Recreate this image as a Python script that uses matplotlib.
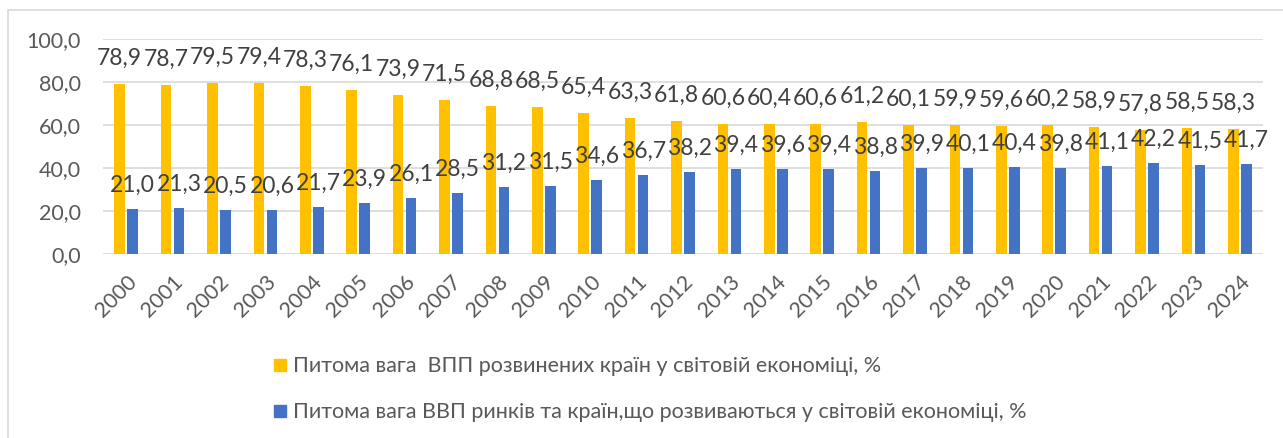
import numpy as np
import matplotlib
matplotlib.use("Agg")
import matplotlib.pyplot as plt
from matplotlib.lines import Line2D
from matplotlib.patches import Rectangle

plt.rcParams['font.family'] = ['Lato', 'DejaVu Sans']

years = [str(y) for y in range(2000, 2025)]
developed = [78.9, 78.7, 79.5, 79.4, 78.3, 76.1, 73.9, 71.5, 68.8, 68.5, 65.4, 63.3, 61.8,
             60.6, 60.4, 60.6, 61.2, 60.1, 59.9, 59.6, 60.2, 58.9, 57.8, 58.5, 58.3]
emerging = [21.0, 21.3, 20.5, 20.6, 21.7, 23.9, 26.1, 28.5, 31.2, 31.5, 34.6, 36.7, 38.2,
            39.4, 39.6, 39.4, 38.8, 39.9, 40.1, 40.4, 39.8, 41.1, 42.2, 41.5, 41.7]
label_dev = "Питома вага  ВПП розвинених країн у світовій економіці, %"
label_em = "Питома вага ВВП ринків та країн,що розвиваються у світовій економіці, %"

yellow = '#FFC000'
blue = '#4472C4'
grey = '#595959'

W, H = 1283, 438
fig = plt.figure(figsize=(W / 100, H / 100), dpi=100)
fig.patches.append(Rectangle((8 / W, -0.1), 1.2, 1 - 10 / H + 0.1, transform=fig.transFigure,
                             fill=False, edgecolor='#D9D9D9', linewidth=1.2))

ax = fig.add_axes([103 / W, 1 - 254 / H, 1160 / W, 215 / H])
x = np.arange(len(years))
bw = 0.227
off = 0.14
ax.bar(x - off, developed, bw, color=yellow, zorder=3)
ax.bar(x + off, emerging, bw, color=blue, zorder=3)

for i in range(len(years)):
    ax.annotate(f"{developed[i]:.1f}".replace('.', ','), (x[i] - off, developed[i]),
                xytext=(0, 18.5), textcoords='offset points', ha='center', va='center',
                fontsize=16.5, color='#404040')
    ax.annotate(f"{emerging[i]:.1f}".replace('.', ','), (x[i] + off, emerging[i]),
                xytext=(0, 17), textcoords='offset points', ha='center', va='center',
                fontsize=16.5, color='#404040')

ax.set_xlim(-0.5, len(years) - 0.5)
ax.set_ylim(0, 100)
ax.set_yticks(np.arange(0, 101, 20))
ax.set_yticklabels([f"{v:.1f}".replace('.', ',') for v in np.arange(0, 101, 20)])
ax.set_xticks(x)
ax.set_xticklabels(years, rotation=45, ha='right', rotation_mode='anchor')
ax.tick_params(axis='both', length=0, labelsize=15.5, labelcolor=grey)
ax.tick_params(axis='x', pad=13)
ax.tick_params(axis='y', pad=16)
ax.grid(axis='y', color='#D9D9D9', linewidth=1.2, zorder=0)
for s in ax.spines.values():
    s.set_visible(False)

handles = [Line2D([], [], marker='s', linestyle='', color=yellow, markersize=8),
           Line2D([], [], marker='s', linestyle='', color=blue, markersize=8)]
fig.legend(handles, [label_dev, label_em], loc='upper left', bbox_to_anchor=(255 / W, 1 - 337 / H),
           frameon=False, fontsize=15.5, labelcolor=grey, handlelength=0.5, handletextpad=0.35,
           labelspacing=1.2)

fig.savefig('out.png', dpi=100)
